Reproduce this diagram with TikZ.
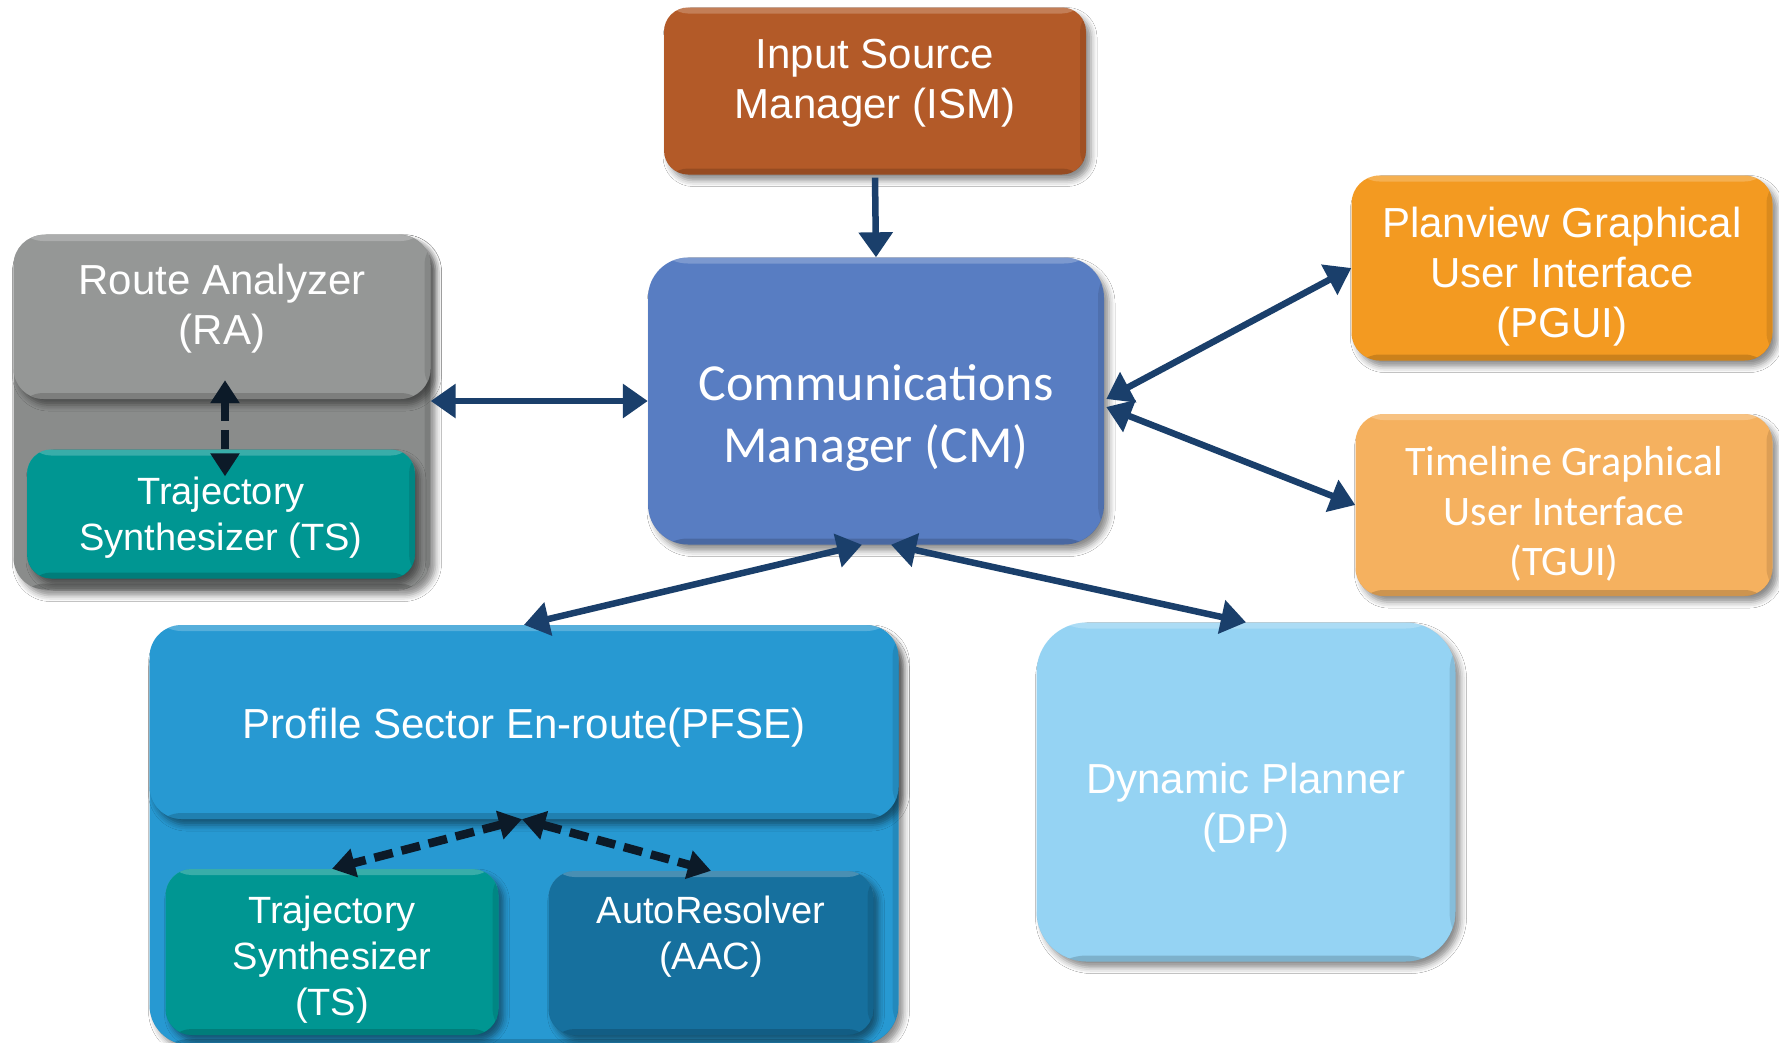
\documentclass[tikz,border=0pt]{standalone}
\usepackage{fontspec}
\setmainfont{Liberation Sans}
\newfontfamily\calibfont{Carlito}
\usetikzlibrary{arrows.meta,shadows.blur}

\definecolor{ismc}{RGB}{179,90,40}
\definecolor{cmc}{RGB}{88,125,194}
\definecolor{pguic}{RGB}{243,154,33}
\definecolor{tguic}{RGB}{245,177,95}
\definecolor{rac}{RGB}{149,151,150}
\definecolor{raoutc}{RGB}{138,140,139}
\definecolor{tsc}{RGB}{0,150,146}
\definecolor{pfsec}{RGB}{39,153,210}
\definecolor{aacc}{RGB}{22,112,158}
\definecolor{dpc}{RGB}{149,211,243}
\definecolor{linkc}{RGB}{26,63,107}
\definecolor{dashc}{RGB}{12,26,40}

\tikzset{
  bevel/.style={path picture={
    \fill[white,opacity=.22] (path picture bounding box.north west) rectangle ([yshift=-6pt]path picture bounding box.north east);
    \fill[black,opacity=.16] (path picture bounding box.south west) rectangle ([yshift=6pt]path picture bounding box.south east);
    \fill[black,opacity=.10] ([xshift=-6pt]path picture bounding box.north east) rectangle (path picture bounding box.south east);
  }},
  card/.style={rectangle, draw=none, rounded corners=28pt, inner sep=0pt,
    blur shadow={shadow xshift=5pt, shadow yshift=-6pt, shadow blur radius=6pt, shadow opacity=45},
    bevel},
  lbl/.style={text=white, align=center, inner sep=0pt},
  big/.style={font=\fontsize{42}{50}\selectfont},
  small/.style={font=\fontsize{38}{46}\selectfont},
  link/.style={draw=linkc, line width=6.5pt,
    arrows={Triangle[length=25pt,width=33pt]-Triangle[length=25pt,width=33pt]}},
  onelink/.style={draw=linkc, line width=6.5pt, arrows={-Triangle[length=25pt,width=33pt]}},
  dashlink/.style={draw=dashc, line width=8.5pt, dash pattern=on 19pt off 9pt,
    arrows={Triangle[length=23pt,width=28pt]-Triangle[length=23pt,width=28pt]}},
}

\begin{document}
\begin{tikzpicture}[x=1pt,y=-1pt]
\useasboundingbox (0,0) rectangle (1779,1042);
\fill[white] (0,0) rectangle (1779,1042);

% top source and central manager
\node[card, fill=ismc, minimum width=422pt, minimum height=167pt, rounded corners=24pt]
  (ism) at (875,91) {};
\node[lbl, big] (ism-t) at ([yshift=8pt]ism.center) {Input Source\\Manager (ISM)};
\node[card, fill=cmc, minimum width=456pt, minimum height=287pt, rounded corners=40pt]
  (cm) at (876,401) {};
\node[lbl, font=\calibfont\fontsize{52}{62}\selectfont]
  (cm-t) at ([yshift=-17pt]cm.center) {Communications\\Manager (CM)};

% graphical user interfaces
\node[card, fill=pguic, minimum width=421pt, minimum height=185pt]
  (pgui) at (1562,268) {};
\node[lbl, big] (pgui-t) at ([yshift=-9pt]pgui.center) {Planview Graphical\\User Interface\\(PGUI)};
\node[card, fill=tguic, minimum width=417pt, minimum height=182pt]
  (tgui) at (1564,505) {};
\node[lbl, font=\calibfont\fontsize{42}{50}\selectfont]
  (tgui-t) at ([yshift=-9pt]tgui.center) {Timeline Graphical\\User Interface\\(TGUI)};

% route analyzer group
\node[card, fill=raoutc, minimum width=417pt, minimum height=355pt, rounded corners=32pt]
  (raout) at (222,412) {};
\node[card, fill=rac, minimum width=417pt, minimum height=164pt, rounded corners=30pt]
  (ratop) at (222,317) {};
\node[lbl, big] (ratop-t) at ([yshift=8pt]ratop.center) {Route Analyzer\\(RA)};
\node[card, fill=tsc, minimum width=388pt, minimum height=129pt, rounded corners=24pt]
  (tsa) at (221,514) {};
\node[lbl, small] (tsa-t) at ([yshift=-4pt]tsa.center) {Trajectory\\Synthesizer (TS)};

% profile sector group
\node[card, fill=pfsec, minimum width=749pt, minimum height=420pt, rounded corners=40pt]
  (pfseout) at (524,835) {};
\node[card, fill=pfsec, minimum width=749pt, minimum height=194pt, rounded corners=32pt]
  (pfse) at (524,722) {};
\node[lbl, big] (pfse-t) at ([yshift=-6pt]pfse.center) {Profile Sector En-route(PFSE)};
\node[card, fill=tsc, minimum width=333pt, minimum height=166pt, rounded corners=26pt]
  (tsb) at (332,952) {};
\node[lbl, small] (tsb-t) at ([yshift=-8pt]tsb.center) {Trajectory\\Synthesizer\\(TS)};
\node[card, fill=aacc, minimum width=325pt, minimum height=164pt, rounded corners=26pt]
  (aac) at (711,953) {};
\node[lbl, small] (aac-t) at ([yshift=16pt]aac.center) {AutoResolver\\(AAC)};

% dynamic planner
\node[card, fill=dpc, minimum width=419pt, minimum height=339pt, rounded corners=50pt]
  (dp) at (1246,792) {};
\node[lbl, big] (dp-t) at ([yshift=-16pt]dp.center) {Dynamic Planner\\(DP)};

% connectors
\draw[onelink] ([yshift=-3pt]ism.south) -- (cm.north);
\draw[link] (raout.east |- cm.west) -- (cm.west);
\draw[link] ([xshift=2pt,yshift=2pt]cm.east) -- (pgui.west);
\draw[link] ([xshift=2pt,yshift=-6pt]cm.east) -- (tgui.west);
\draw[link] ([xshift=-14pt]cm.south) -- (pfse.north);
\draw[link] ([xshift=15pt]cm.south) -- (dp.north);

\draw[dashlink] ([xshift=3pt,yshift=19pt]ratop.south) -- ([xshift=4pt,yshift=-27pt]tsa.north);
\draw[dashlink] ([xshift=-2pt]pfse.south) -- (tsb.north);
\draw[dashlink] ([xshift=-2pt]pfse.south) -- (aac.north);
\end{tikzpicture}
\end{document}
